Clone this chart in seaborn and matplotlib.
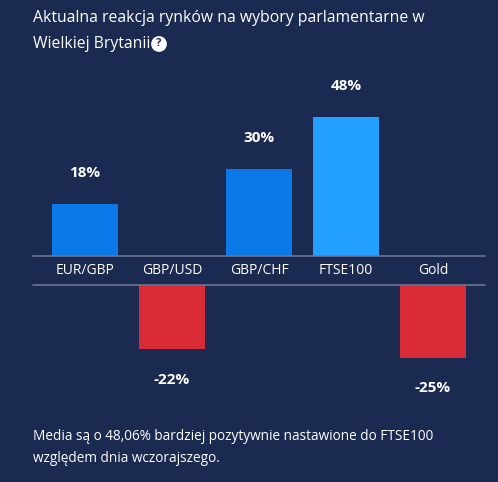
import matplotlib
matplotlib.use("Agg")
import matplotlib.pyplot as plt
import seaborn as sns
import pandas as pd

categories = ["EUR/GBP", "GBP/USD", "GBP/CHF", "FTSE100", "Gold"]
values = [18, -22, 30, 48, -25]
colors = ["#0a78e6", "#d92b37", "#0a78e6", "#23a0ff", "#d92b37"]
labels = ["18%", "-22%", "30%", "48%", "-25%"]

BG = "#1b2a50"
sns.set_theme(style="white")
plt.rcParams['font.family'] = ['Open Sans', 'DejaVu Sans']
W, H = 498, 482
fig = plt.figure(figsize=(W/100, H/100), dpi=100, facecolor=BG)
df = pd.DataFrame({"cat": categories, "val": values})
pal = dict(zip(categories, colors))

def ax_at(x0, y0, x1, y1):
    return fig.add_axes([x0/W, 1-y1/H, (x1-x0)/W, (y1-y0)/H])

top = ax_at(33, 111, 485, 256)
bot = ax_at(33, 285, 485, 372)
for ax, lim in ((top, (0, 50)), (bot, (-30, 0))):
    sns.barplot(data=df, x="cat", y="val", hue="cat", palette=pal, width=0.76,
                legend=False, ax=ax, saturation=1, linewidth=0, edgecolor="none")
    ax.set_ylim(*lim)
    ax.set_xlim(-0.598, 4.597)
    ax.set_facecolor(BG)
    ax.axis("off")
    for p in ax.patches:
        p.set_linewidth(0)

lc = "#6b7596"
for y in (256, 285):
    fig.add_artist(plt.Line2D([33/W, 485/W], [1-y/H, 1-y/H], color=lc, lw=1.2))
for i, c in enumerate(categories):
    fig.text((85+87*i)/W, 1-271/H, c, color="white", fontsize=10, ha="center", va="center")

for i, (v, l) in enumerate(zip(values, labels)):
    if v > 0:
        top.annotate(l, (i, v), xytext=(0, 31), textcoords="offset pixels", ha="center",
                     va="center", color="white", fontsize=11, fontweight="bold")
    else:
        bot.annotate(l, (i, v), xytext=(0, -31), textcoords="offset pixels", ha="center",
                     va="center", color="white", fontsize=11, fontweight="bold")

fig.text(33/W, 1-18/H, "Aktualna reakcja rynków na wybory parlamentarne w", color="white",
         fontsize=11.3, va="center")
fig.text(33/W, 1-44/H, "Wielkiej Brytanii", color="white", fontsize=11.3, va="center")
fig.text(159/W, 1-44/H, "?", color=BG, fontsize=8, fontweight="bold", va="center", ha="center",
         bbox=dict(boxstyle="circle,pad=0.15", fc="white", ec="white"))
fig.text(33/W, 1-437/H, "Media są o 48,06% bardziej pozytywnie nastawione do FTSE100", color="white",
         fontsize=9.8, va="center")
fig.text(33/W, 1-459/H, "względem dnia wczorajszego.", color="white", fontsize=9.8, va="center")

fig.savefig("out.png", dpi=100, facecolor=BG)
